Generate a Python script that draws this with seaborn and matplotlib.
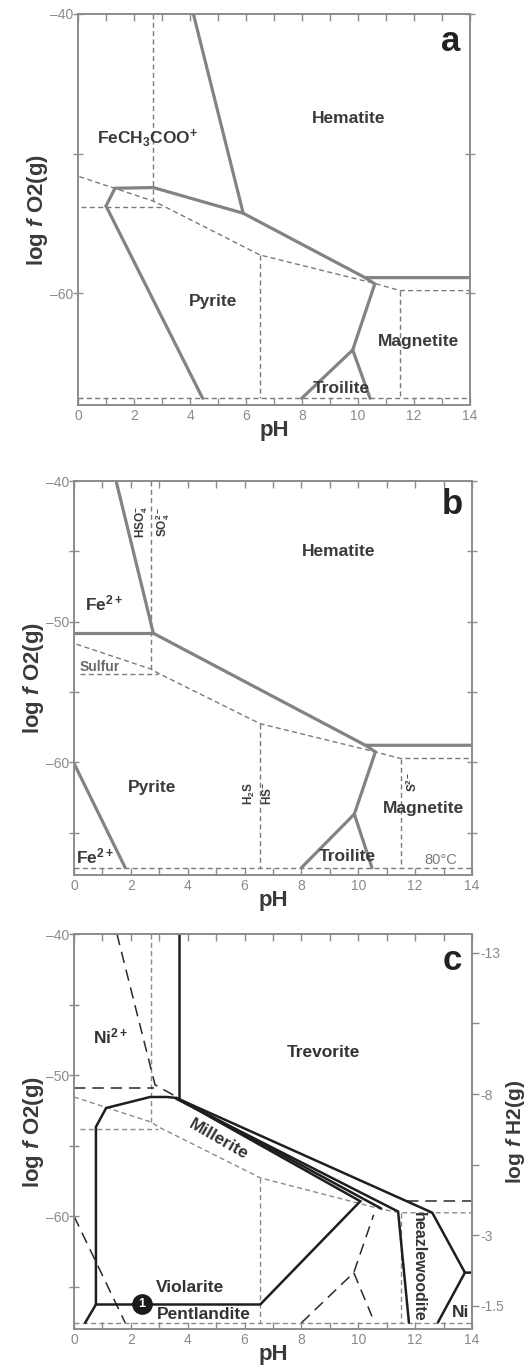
import numpy as np
import pandas as pd
import matplotlib
matplotlib.use("Agg")
import matplotlib.pyplot as plt
from matplotlib.ticker import FixedLocator, MultipleLocator
import seaborn as sns

# ------------------------------------------------------------------ data
PH_TICKS = [0, 2, 4, 6, 8, 10, 12, 14]
O2_TICKS_A = [-40, -60]
O2_MINOR_A = [-50]
O2_TICKS = [-40, -50, -60]
O2_MINOR = [-45, -55, -65]
H2_TICKS = [-13, -10.5, -8, -5.5, -3, -0.5]
H2_TICK_LABELS = ["-13", "", "-8", "", "-3", "-1.5"]

# Panel a - solid phase boundaries (pH, log fO2)
a_hem_fe = [(4.12, -40.0), (5.90, -54.27)]
a_upper = [(1.00, -53.75), (1.32, -52.48), (2.69, -52.43), (5.90, -54.27),
           (10.25, -58.88), (14.0, -58.88)]
a_pyr_left = [(1.00, -53.75), (4.45, -67.52)]
a_pyr_right = [(10.25, -58.88), (10.60, -59.33), (9.81, -64.06), (7.99, -67.52)]
a_troi = [(9.81, -64.06), (10.43, -67.52)]
# Panel a - dashed aqueous sulfur boundaries
a_d_vert1 = [(2.69, -40.0), (2.69, -53.40)]
a_d_slant = [(0.05, -51.65), (2.69, -53.40), (3.05, -53.75), (6.50, -57.26),
             (10.60, -59.30), (11.50, -59.81), (14.0, -59.81)]
a_d_horiz = [(0.10, -53.80), (3.05, -53.80)]
a_d_vert2 = [(6.50, -57.26), (6.50, -67.52)]
a_d_vert3 = [(11.50, -59.81), (11.50, -67.52)]
a_d_bottom = [(0.0, -67.52), (14.0, -67.52)]

# Panel b - solid
b_fe_hem = [(1.48, -40.0), (2.79, -50.82)]
b_fe_horiz = [(0.0, -50.82), (2.79, -50.82)]
b_upper = [(2.79, -50.82), (10.25, -58.78), (14.0, -58.78)]
b_pyr_right = [(10.25, -58.78), (10.60, -59.25), (9.86, -63.67), (8.00, -67.48)]
b_troi = [(9.86, -63.67), (10.48, -67.48)]
b_fe_low = [(0.0, -60.07), (1.80, -67.48)]
# Panel b - dashed
b_d_vert1 = [(2.70, -40.0), (2.70, -53.36)]
b_d_slant = [(0.09, -51.60), (2.70, -53.36), (3.00, -53.70), (6.55, -57.25),
             (10.60, -59.25), (11.48, -59.72), (14.0, -59.72)]
b_d_horiz = [(0.20, -53.72), (2.95, -53.72)]
b_d_vert2 = [(6.53, -57.25), (6.53, -67.48)]
b_d_vert3 = [(11.50, -59.72), (11.50, -67.48)]
b_d_bottom = [(0.0, -67.48), (14.0, -67.48)]

# Panel c - solid
c_vert = [(3.71, -40.0), (3.71, -51.62)]
c_poly_left = [(0.77, -66.26), (0.77, -53.67), (1.13, -52.33), (2.68, -51.55),
               (3.26, -51.55), (3.60, -51.62)]
c_band_top = [(3.60, -51.62), (12.60, -59.75), (13.75, -64.00), (14.0, -64.00)]
c_band_mid = [(3.70, -51.70), (10.80, -59.45)]
c_heaz_left = [(3.60, -51.68), (11.40, -59.67), (11.78, -67.53)]
c_viol = [(3.60, -51.62), (10.07, -58.94), (6.55, -66.26), (0.77, -66.26)]
c_ni = [(13.75, -64.00), (12.80, -67.53)]
c_pent_left = [(0.77, -66.26), (0.39, -67.56)]
# Panel c - long dashed
c_ld_ni = [(1.51, -40.0), (2.85, -50.69), (3.66, -51.60)]
c_ld_horiz = [(0.0, -50.92), (2.80, -50.92)]
c_ld_left = [(0.0, -60.0), (1.80, -67.56)]
c_ld_right = [(11.70, -58.90), (14.0, -58.90)]
c_ld_troi = [(8.00, -67.56), (9.84, -64.00), (10.54, -59.90)]
c_ld_troi2 = [(9.84, -64.00), (10.48, -67.10)]
# Panel c - short dashed
c_d_vert1 = [(2.70, -40.0), (2.70, -53.32)]
c_d_slant = [(0.0, -51.55), (2.70, -53.32), (3.00, -53.70), (6.55, -57.28),
             (10.77, -59.48), (11.48, -59.76), (14.0, -59.76)]
c_d_horiz = [(0.20, -53.80), (2.95, -53.80)]
c_d_vert2 = [(6.55, -57.28), (6.55, -67.56)]
c_d_vert3 = [(11.50, -59.76), (11.50, -67.56)]
c_d_bottom = [(0.0, -67.56), (14.0, -67.56)]
c_marker = [(2.38, -66.26)]

# ------------------------------------------------------------------ style
sns.set_style("ticks")
plt.rcParams["font.family"] = ["Liberation Sans", "DejaVu Sans"]
plt.rcParams["mathtext.fontset"] = "custom"
plt.rcParams["mathtext.rm"] = "Liberation Sans:bold"
plt.rcParams["mathtext.it"] = "Liberation Sans:italic:bold"
plt.rcParams["mathtext.bf"] = "Liberation Sans:bold"
plt.rcParams["mathtext.default"] = "regular"

GRAY_LINE = "#838383"
GRAY_DASH = "#7a7a7a"
TXT = "#3a3a3a"
TICK_C = "#8a8a8a"
SPINE_C = "#8c8c8c"
LBL = 12.5      # region label size
AX_LBL = 16     # axis label size
TICK_FS = 10

fig = plt.figure(figsize=(5.25, 13.7), dpi=100)
ax_a = fig.add_axes([0.1486, 0.7044, 0.7467, 0.2854])
ax_b = fig.add_axes([0.1410, 0.3613, 0.7581, 0.2876])
ax_c = fig.add_axes([0.1410, 0.0299, 0.7581, 0.2883])


def draw(ax, pts, color, lw, ls="-"):
    df = pd.DataFrame(pts, columns=["pH", "logfO2"])
    sns.lineplot(data=df, x="pH", y="logfO2", ax=ax, sort=False,
                 estimator=None, color=color, lw=lw, linestyle=ls,
                 solid_joinstyle="miter", legend=False)


SHORT = (0, (3.6, 2.4))
LONG = (0, (7.5, 4.5))


def setup(ax, yticks, yminor, right_ticks=True):
    ax.set_xlim(0, 14)
    ax.set_ylim(-68, -40)
    ax.xaxis.set_major_locator(FixedLocator(PH_TICKS))
    ax.xaxis.set_minor_locator(MultipleLocator(1))
    ax.yaxis.set_major_locator(FixedLocator(yticks))
    ax.yaxis.set_minor_locator(FixedLocator(yminor))
    ax.set_xticklabels([str(t) for t in PH_TICKS])
    ax.set_yticklabels([str(t).replace("-", "\u2013") for t in yticks])
    ax.tick_params(axis="x", which="both", direction="in", top=True,
                   bottom=True, length=5, width=1, color=SPINE_C,
                   labelsize=TICK_FS, labelcolor=TICK_C, pad=3)
    ax.tick_params(axis="y", which="both", direction="inout", left=True,
                   right=right_ticks, length=7, width=1, color=SPINE_C,
                   labelsize=TICK_FS, labelcolor=TICK_C, pad=0)
    for s in ax.spines.values():
        s.set_color(SPINE_C)
        s.set_linewidth(1.4)
    ax.set_xlabel("pH", fontsize=AX_LBL, fontweight="bold", color=TXT,
                  labelpad=-2)
    ax.set_ylabel(r"log $\mathit{f}$ O2(g)", fontsize=AX_LBL,
                  fontweight="bold", color=TXT, labelpad=0)


def lab(ax, x, y, s, size=LBL, color=TXT, weight="bold", **kw):
    ax.text(x, y, s, fontsize=size, color=color, fontweight=weight,
            ha="center", va="center", **kw)


# ---------------- panel a
for pts in [a_d_vert1, a_d_slant, a_d_horiz, a_d_vert2, a_d_vert3, a_d_bottom]:
    draw(ax_a, pts, GRAY_DASH, 1.0, SHORT)
for pts in [a_hem_fe, a_upper, a_pyr_left, a_pyr_right, a_troi]:
    draw(ax_a, pts, GRAY_LINE, 2.3)
setup(ax_a, O2_TICKS_A, O2_MINOR_A)
lab(ax_a, 9.65, -47.5, "Hematite")
lab(ax_a, 2.5, -48.85, r"FeCH$_{3}$COO$^{+}$")
lab(ax_a, 4.83, -60.6, "Pyrite")
lab(ax_a, 12.15, -63.46, "Magnetite")
lab(ax_a, 9.42, -66.85, "Troilite")
lab(ax_a, 13.3, -42.0, "a", size=25, color="#222222")

# ---------------- panel b
for pts in [b_d_vert1, b_d_slant, b_d_horiz, b_d_vert2, b_d_vert3, b_d_bottom]:
    draw(ax_b, pts, GRAY_DASH, 1.0, SHORT)
for pts in [b_fe_hem, b_fe_horiz, b_upper, b_pyr_right, b_troi, b_fe_low]:
    draw(ax_b, pts, GRAY_LINE, 2.3)
setup(ax_b, O2_TICKS, O2_MINOR)
lab(ax_b, 9.3, -45.0, "Hematite")
lab(ax_b, 1.05, -48.7, r"Fe$^{2+}$")
lab(ax_b, 0.92, -53.2, "Sulfur", size=10, color="#6a6a6a")
lab(ax_b, 2.73, -61.8, "Pyrite")
lab(ax_b, 12.3, -63.25, "Magnetite")
lab(ax_b, 9.6, -66.66, "Troilite")
lab(ax_b, 0.74, -66.7, r"Fe$^{2+}$")
lab(ax_b, 12.9, -66.9, "80°C", size=10.5, color="#7a7a7a", weight="normal")
lab(ax_b, 2.38, -42.9, r"HSO$_{4}^{-}$", size=8.5, rotation=90)
lab(ax_b, 3.12, -42.9, r"SO$_{4}^{2-}$", size=8.5, rotation=90)
lab(ax_b, 6.17, -62.2, r"H$_{2}$S", size=8.5, rotation=90)
lab(ax_b, 6.80, -62.2, r"HS$^{-}$", size=8.5, rotation=90)
lab(ax_b, 11.9, -61.4, r"S$^{2-}$", size=8.5, rotation=90)
lab(ax_b, 13.3, -41.7, "b", size=25, color="#222222")

# ---------------- panel c
for pts in [c_d_vert1, c_d_slant, c_d_horiz, c_d_vert2, c_d_vert3, c_d_bottom]:
    draw(ax_c, pts, "#8a8a8a", 1.0, SHORT)
for pts in [c_ld_ni, c_ld_horiz, c_ld_left, c_ld_right, c_ld_troi, c_ld_troi2]:
    draw(ax_c, pts, "#2a2a2a", 1.1, LONG)
for pts in [c_vert, c_poly_left, c_band_top, c_band_mid, c_heaz_left, c_viol,
            c_ni, c_pent_left]:
    draw(ax_c, pts, "#1e1e1e", 1.8)
setup(ax_c, O2_TICKS, O2_MINOR, right_ticks=False)
mk = pd.DataFrame(c_marker, columns=["pH", "logfO2"])
sns.scatterplot(data=mk, x="pH", y="logfO2", ax=ax_c, s=190, color="#1a1a1a",
                edgecolor="#1a1a1a", zorder=5, legend=False)
ax_c.set_xlabel("pH", fontsize=AX_LBL, fontweight="bold", color=TXT,
                labelpad=-2)
ax_c.set_ylabel(r"log $\mathit{f}$ O2(g)", fontsize=AX_LBL,
                fontweight="bold", color=TXT, labelpad=0)
lab(ax_c, 2.38, -66.26, "1", size=9, color="white", zorder=6)
lab(ax_c, 1.27, -47.25, r"Ni$^{2+}$", color="#333333")
lab(ax_c, 8.78, -48.43, "Trevorite", color="#333333")
lab(ax_c, 5.08, -54.6, "Millerite", color="#333333", rotation=-30,
    rotation_mode="anchor")
lab(ax_c, 4.08, -65.08, "Violarite", color="#333333")
lab(ax_c, 4.55, -67.0, "Pentlandite", color="#333333")
lab(ax_c, 12.1, -63.6, "heazlewoodite", size=11.5, color="#333333",
    rotation=270)
lab(ax_c, 13.6, -66.85, "Ni", color="#333333")
lab(ax_c, 13.3, -41.9, "c", size=25, color="#222222")


def o2_to_h2(o2):
    return -0.5 * np.asarray(o2) - 33.67


def h2_to_o2(h2):
    return -2.0 * (np.asarray(h2) + 33.67)


sec = ax_c.secondary_yaxis("right", functions=(o2_to_h2, h2_to_o2))
sec.set_yticks(H2_TICKS)
sec.set_yticklabels(H2_TICK_LABELS)
sec.tick_params(direction="out", length=5, width=1, color=SPINE_C,
                labelsize=TICK_FS, labelcolor=TICK_C, pad=1)
sec.spines["right"].set_color(SPINE_C)
sec.spines["right"].set_linewidth(1.4)
sec.set_ylabel(r"log $\mathit{f}$ H2(g)", fontsize=AX_LBL - 1,
               fontweight="bold", color=TXT, labelpad=0)

fig.savefig("out.png", dpi=100, facecolor="white")
